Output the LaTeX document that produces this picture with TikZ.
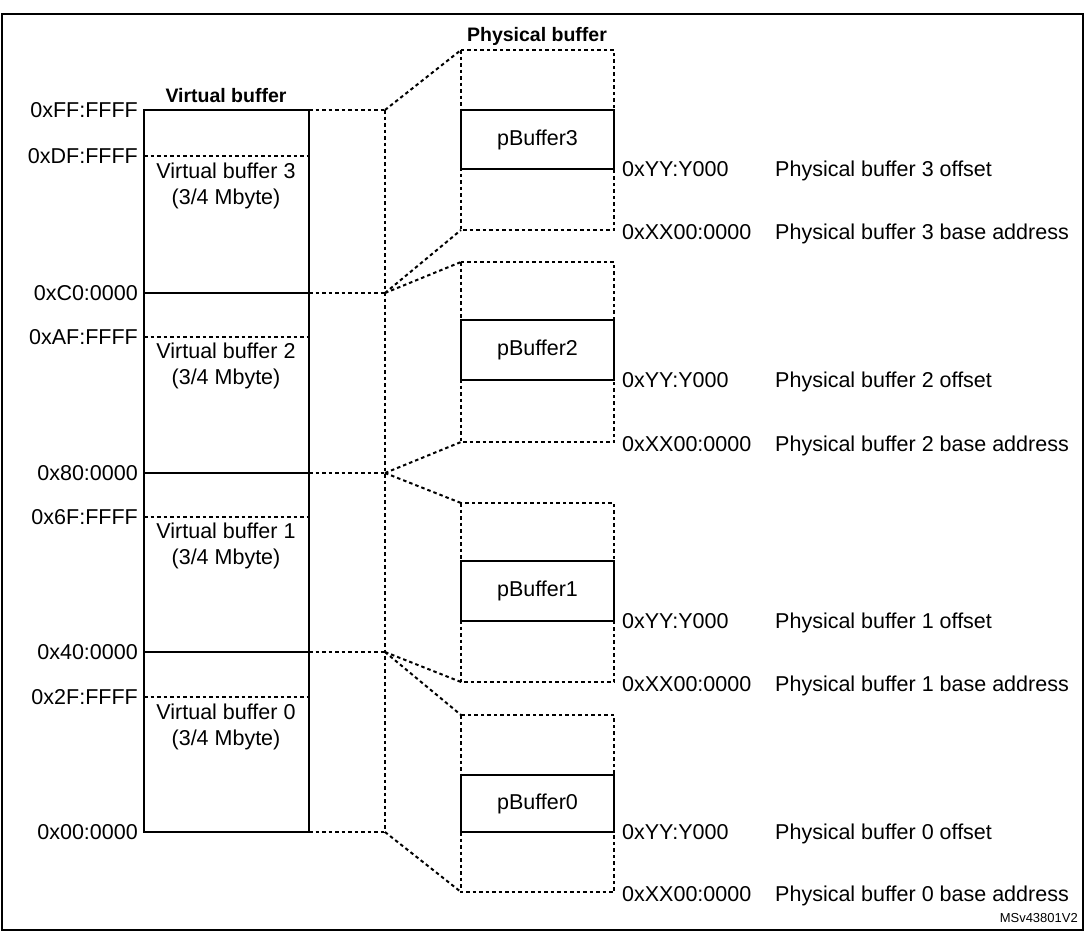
\documentclass[tikz,border=0pt]{standalone}
\usepackage{fontspec}
\setmainfont{Liberation Sans}
\begin{document}
\begin{tikzpicture}[x=1pt,y=-1pt,
  solid line/.style={line width=2.2pt},
  dot line/.style={line width=2pt,dash pattern=on 3.5pt off 3pt},
  txt/.style={font=\fontsize{21.5}{25}\selectfont,inner sep=0pt},
  lbl/.style={txt,anchor=east},
  rl/.style={txt,anchor=west}]
\useasboundingbox (0,0) rectangle (1085,932);
\draw[line width=1.4pt] (2,14) rectangle (1083,930);
% virtual buffer
\draw[solid line] (144,110) rectangle (309,832);
\foreach \y in {293,473,652}{\draw[solid line] (144,\y) -- (309,\y);}
\foreach \y in {156,337,517,697}{\draw[dot line] (144,\y) -- (309,\y);}
\foreach \y/\t in {110/0xFF:FFFF,156/0xDF:FFFF,293/0xC0:0000,337/0xAF:FFFF,473/0x80:0000,517/0x6F:FFFF,652/0x40:0000,697/0x2F:FFFF,832/0x00:0000}
  {\node[lbl] (l\y) at (138,\y) {\t};}
\node[txt,font=\bfseries\fontsize{19.5}{24}\selectfont] (vt) at (226,96) {Virtual buffer};
\node[txt,font=\bfseries\fontsize{19.5}{24}\selectfont] (pt) at (537,36) {Physical buffer};
\foreach \n/\y in {3/186,2/366,1/546,0/727}{
  \node[txt,align=center] (v\n) at (226,\y) {Virtual buffer \n\\[1pt](3/4 Mbyte)};}
% hub
\foreach \y in {110,293,473,652,832}{\coordinate (h\y) at (385,\y); \draw[dot line] (309,\y) -- (h\y);}
\draw[dot line] (h110) -- (h832);
% physical boxes
\foreach \n/\t/\b/\pt/\pb in {3/50/230/110/169,2/262/442/320/380,1/503/682/561/621,0/715/892/775/832}{
  \draw[dot line] (461,\t) rectangle (614,\b);
  \node[draw,solid line,minimum width=153pt,minimum height={\pb-\pt},inner sep=0pt,fill=white,txt] (pb\n) at (537.5,{(\pt+\pb)/2}) {pBuffer\n};
  \node[rl] (o\n) at (622,\pb) {0xYY:Y000};
  \node[rl] (b\n) at (622,\b+2) {0xXX00:0000};
  \node[rl] (od\n) at (775,\pb+2) {Physical buffer \n\ offset};
  \node[rl] (bd\n) at (775,\b+4) {Physical buffer \n\ base address};
}
\draw[dot line] (h110) -- (461,50);
\draw[dot line] (h293) -- (461,230);
\draw[dot line] (h293) -- (461,262);
\draw[dot line] (h473) -- (461,442);
\draw[dot line] (h473) -- (461,503);
\draw[dot line] (h652) -- (461,682);
\draw[dot line] (h652) -- (461,715);
\draw[dot line] (h832) -- (461,892);
\node[anchor=east,inner sep=0pt,font=\fontsize{13}{15}\selectfont] (id) at (1078,918) {MSv43801V2};
\end{tikzpicture}
\end{document}
